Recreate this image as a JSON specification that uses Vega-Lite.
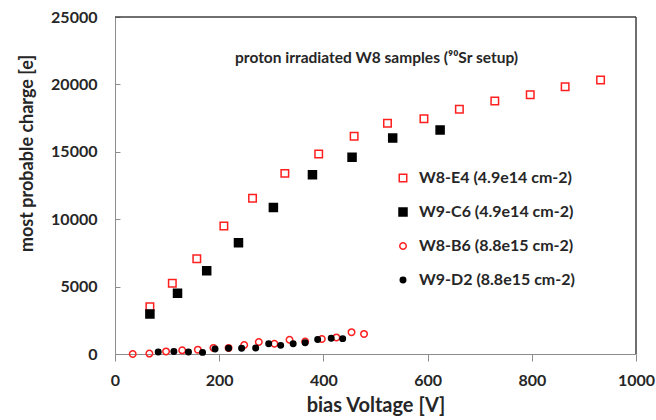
{
  "$schema": "https://vega.github.io/schema/vega-lite/v6.json",
  "width": 521,
  "height": 337,
  "autosize": {"type": "none"},
  "padding": {"left": 115, "top": 17, "right": 20, "bottom": 66},
  "background": "#ffffff",
  "config": {"view": {"stroke": null}, "font": "Lato"},
  "layer": [
    {
      "data": {
        "values": [
          {"s": "W8-E4 (4.9e14 cm-2)", "V": 67, "Q": 3510},
          {"s": "W8-E4 (4.9e14 cm-2)", "V": 110, "Q": 5245},
          {"s": "W8-E4 (4.9e14 cm-2)", "V": 157, "Q": 7070},
          {"s": "W8-E4 (4.9e14 cm-2)", "V": 209, "Q": 9500},
          {"s": "W8-E4 (4.9e14 cm-2)", "V": 264, "Q": 11550},
          {"s": "W8-E4 (4.9e14 cm-2)", "V": 326, "Q": 13400},
          {"s": "W8-E4 (4.9e14 cm-2)", "V": 391, "Q": 14840},
          {"s": "W8-E4 (4.9e14 cm-2)", "V": 459, "Q": 16150},
          {"s": "W8-E4 (4.9e14 cm-2)", "V": 523, "Q": 17110},
          {"s": "W8-E4 (4.9e14 cm-2)", "V": 593, "Q": 17455},
          {"s": "W8-E4 (4.9e14 cm-2)", "V": 661, "Q": 18150},
          {"s": "W8-E4 (4.9e14 cm-2)", "V": 729, "Q": 18770},
          {"s": "W8-E4 (4.9e14 cm-2)", "V": 797, "Q": 19240},
          {"s": "W8-E4 (4.9e14 cm-2)", "V": 864, "Q": 19830},
          {"s": "W8-E4 (4.9e14 cm-2)", "V": 932, "Q": 20330},
          {"s": "W9-C6 (4.9e14 cm-2)", "V": 67, "Q": 2970},
          {"s": "W9-C6 (4.9e14 cm-2)", "V": 120, "Q": 4500},
          {"s": "W9-C6 (4.9e14 cm-2)", "V": 176, "Q": 6180},
          {"s": "W9-C6 (4.9e14 cm-2)", "V": 237, "Q": 8260},
          {"s": "W9-C6 (4.9e14 cm-2)", "V": 304, "Q": 10870},
          {"s": "W9-C6 (4.9e14 cm-2)", "V": 379, "Q": 13300},
          {"s": "W9-C6 (4.9e14 cm-2)", "V": 455, "Q": 14590},
          {"s": "W9-C6 (4.9e14 cm-2)", "V": 533, "Q": 16020},
          {"s": "W9-C6 (4.9e14 cm-2)", "V": 624, "Q": 16620},
          {"s": "W8-B6 (8.8e15 cm-2)", "V": 34, "Q": 0},
          {"s": "W8-B6 (8.8e15 cm-2)", "V": 66, "Q": 30},
          {"s": "W8-B6 (8.8e15 cm-2)", "V": 98, "Q": 190},
          {"s": "W8-B6 (8.8e15 cm-2)", "V": 129, "Q": 270},
          {"s": "W8-B6 (8.8e15 cm-2)", "V": 159, "Q": 320},
          {"s": "W8-B6 (8.8e15 cm-2)", "V": 189, "Q": 450},
          {"s": "W8-B6 (8.8e15 cm-2)", "V": 218, "Q": 450},
          {"s": "W8-B6 (8.8e15 cm-2)", "V": 248, "Q": 670},
          {"s": "W8-B6 (8.8e15 cm-2)", "V": 276, "Q": 890},
          {"s": "W8-B6 (8.8e15 cm-2)", "V": 306, "Q": 760},
          {"s": "W8-B6 (8.8e15 cm-2)", "V": 335, "Q": 1060},
          {"s": "W8-B6 (8.8e15 cm-2)", "V": 365, "Q": 930},
          {"s": "W8-B6 (8.8e15 cm-2)", "V": 397, "Q": 1110},
          {"s": "W8-B6 (8.8e15 cm-2)", "V": 425, "Q": 1230},
          {"s": "W8-B6 (8.8e15 cm-2)", "V": 454, "Q": 1620},
          {"s": "W8-B6 (8.8e15 cm-2)", "V": 478, "Q": 1490},
          {"s": "W9-D2 (8.8e15 cm-2)", "V": 83, "Q": 150},
          {"s": "W9-D2 (8.8e15 cm-2)", "V": 113, "Q": 190},
          {"s": "W9-D2 (8.8e15 cm-2)", "V": 141, "Q": 150},
          {"s": "W9-D2 (8.8e15 cm-2)", "V": 168, "Q": 120},
          {"s": "W9-D2 (8.8e15 cm-2)", "V": 192, "Q": 370},
          {"s": "W9-D2 (8.8e15 cm-2)", "V": 218, "Q": 430},
          {"s": "W9-D2 (8.8e15 cm-2)", "V": 243, "Q": 430},
          {"s": "W9-D2 (8.8e15 cm-2)", "V": 270, "Q": 450},
          {"s": "W9-D2 (8.8e15 cm-2)", "V": 295, "Q": 760},
          {"s": "W9-D2 (8.8e15 cm-2)", "V": 318, "Q": 640},
          {"s": "W9-D2 (8.8e15 cm-2)", "V": 342, "Q": 760},
          {"s": "W9-D2 (8.8e15 cm-2)", "V": 365, "Q": 830},
          {"s": "W9-D2 (8.8e15 cm-2)", "V": 389, "Q": 1080},
          {"s": "W9-D2 (8.8e15 cm-2)", "V": 415, "Q": 1170},
          {"s": "W9-D2 (8.8e15 cm-2)", "V": 437, "Q": 1140}
        ]
      },
      "mark": {"type": "point", "strokeWidth": 1.5, "opacity": 1},
      "encoding": {
        "x": {
          "field": "V", "type": "quantitative",
          "scale": {"domain": [0, 1000], "nice": false},
          "axis": {
            "values": [0, 200, 400, 600, 800, 1000],
            "format": "d",
            "title": "bias Voltage [V]",
            "titleFont": "Lato", "titleFontSize": 20, "titleFontWeight": "bold", "titleColor": "#262626",
            "titleBaseline": "alphabetic", "titleY": 57,
            "labelFont": "Lato", "labelFontSize": 16, "labelFontWeight": "bold", "labelColor": "#262626",
            "labelFlush": false, "labelPadding": 11,
            "tickSize": 7, "tickColor": "#8c8c8c", "domainColor": "#8c8c8c", "grid": false
          }
        },
        "y": {
          "field": "Q", "type": "quantitative",
          "scale": {"domain": [0, 25000], "nice": false},
          "axis": {
            "values": [0, 5000, 10000, 15000, 20000, 25000],
            "format": "d",
            "title": "most probable charge [e]",
            "titleFont": "Lato", "titleFontSize": 18, "titleFontWeight": "bold", "titleColor": "#262626",
            "titleBaseline": "middle", "titleAlign": "center", "titleX": -88, "titleY": 136,
            "labelFont": "Lato", "labelFontSize": 16, "labelFontWeight": "bold", "labelColor": "#262626",
            "labelFlush": false, "labelPadding": 23,
            "tickSize": -5, "tickColor": "#8c8c8c", "domainColor": "#8c8c8c", "grid": false
          }
        },
        "stroke": {
          "field": "s", "type": "nominal",
          "scale": {"domain": ["W8-E4 (4.9e14 cm-2)", "W9-C6 (4.9e14 cm-2)", "W8-B6 (8.8e15 cm-2)", "W9-D2 (8.8e15 cm-2)"], "range": ["#ff1f1f", "#000000", "#ff1f1f", "#000000"]},
          "legend": {"orient": "none", "legendX": 280, "legendY": 153, "title": null, "labelFont": "Lato", "labelFontSize": 16, "labelFontWeight": "bold", "labelColor": "#262626", "rowPadding": 18, "labelOffset": 8, "symbolStrokeWidth": 1.5, "padding": 0}
        },
        "fill": {
          "field": "s", "type": "nominal",
          "scale": {"domain": ["W8-E4 (4.9e14 cm-2)", "W9-C6 (4.9e14 cm-2)", "W8-B6 (8.8e15 cm-2)", "W9-D2 (8.8e15 cm-2)"], "range": ["transparent", "#000000", "transparent", "#000000"]},
          "legend": {"orient": "none", "legendX": 280, "legendY": 153, "title": null, "labelFont": "Lato", "labelFontSize": 16, "labelFontWeight": "bold", "labelColor": "#262626", "rowPadding": 18, "labelOffset": 8, "symbolStrokeWidth": 1.5, "padding": 0}
        },
        "shape": {
          "field": "s", "type": "nominal",
          "scale": {"domain": ["W8-E4 (4.9e14 cm-2)", "W9-C6 (4.9e14 cm-2)", "W8-B6 (8.8e15 cm-2)", "W9-D2 (8.8e15 cm-2)"], "range": ["square", "square", "circle", "circle"]},
          "legend": {"orient": "none", "legendX": 280, "legendY": 153, "title": null, "labelFont": "Lato", "labelFontSize": 16, "labelFontWeight": "bold", "labelColor": "#262626", "rowPadding": 18, "labelOffset": 8, "symbolStrokeWidth": 1.5, "padding": 0}
        },
        "size": {
          "field": "s", "type": "nominal",
          "scale": {"type": "ordinal", "domain": ["W8-E4 (4.9e14 cm-2)", "W9-C6 (4.9e14 cm-2)", "W8-B6 (8.8e15 cm-2)", "W9-D2 (8.8e15 cm-2)"], "range": [56, 64, 42, 30]},
          "legend": {"orient": "none", "legendX": 280, "legendY": 153, "title": null, "labelFont": "Lato", "labelFontSize": 16, "labelFontWeight": "bold", "labelColor": "#262626", "rowPadding": 18, "labelOffset": 8, "symbolStrokeWidth": 1.5, "padding": 0}
        }
      }
    },
    {
      "data": {"values": [{}]},
      "mark": {"type": "rule", "color": "#404040", "strokeWidth": 1.5},
      "encoding": {"y": {"datum": 25000, "type": "quantitative"}}
    },
    {
      "data": {"values": [{}]},
      "mark": {"type": "rule", "color": "#404040", "strokeWidth": 1.5},
      "encoding": {"x": {"datum": 1000, "type": "quantitative"}}
    },
    {
      "data": {"values": [{}]},
      "mark": {"type": "text", "font": "Lato", "fontSize": 15.5, "fontWeight": "bold", "color": "#262626", "align": "center", "baseline": "middle"},
      "encoding": {
        "x": {"datum": 502, "type": "quantitative"},
        "y": {"datum": 21950, "type": "quantitative"},
        "text": {"value": "proton irradiated W8 samples (⁹⁰Sr setup)"}
      }
    }
  ]
}
